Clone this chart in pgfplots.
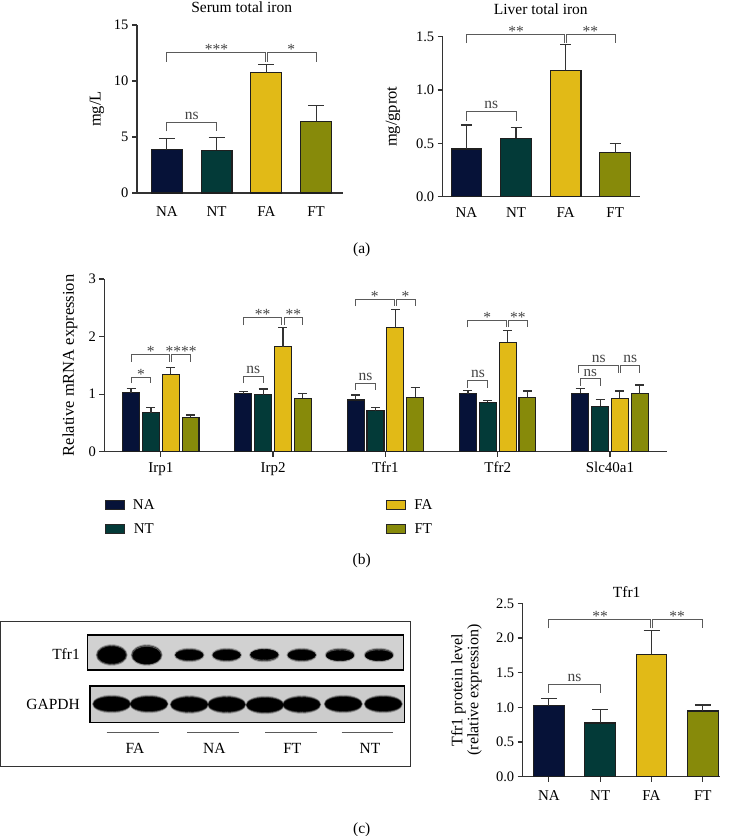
\documentclass[border=0pt]{standalone}
\usepackage{fontspec}
\setmainfont{Liberation Serif}
\usepackage{pgfplots}
\pgfplotsset{compat=1.18}
\definecolor{cNA}{HTML}{061238}
\definecolor{cNT}{HTML}{033A38}
\definecolor{cFA}{HTML}{E1BA17}
\definecolor{cFT}{HTML}{878A0A}
\definecolor{axg}{HTML}{333333}
\definecolor{brg}{HTML}{5A5A5A}
\definecolor{stg}{HTML}{444444}
\newcommand{\fs}[1]{\fontsize{#1}{#1}\selectfont}
\pgfplotsset{
  base/.style={
    scale only axis, anchor=south west, clip=false,
    axis x line*=bottom, axis y line*=left,
    axis line style={-, draw=axg, line width=1.2pt},
    tick style={draw=axg, line width=1.2pt},
    tick align=outside, major tick length=5pt,
    y tick label style={font=\fs{14.5}},
    x tick label style={font=\fs{15}, yshift=-5pt},
    /pgf/number format/assume math mode=true,
    ymin=0,
  },
  bar/.style n args={3}{ybar, bar shift=0pt, bar width=#3, draw=black!88, line width=1.1pt, fill=#1,
     error bars/y dir=plus, error bars/y explicit,
     error bars/error bar style={draw=axg, line width=1.2pt},
     error bars/error mark options={rotate=90, draw=axg, line width=1.2pt, mark size=#2}},
  brk/.style={draw=brg, line width=1pt, mark=none, sharp plot},
  leg/.style={hide axis, scale only axis, width=10pt, height=10pt, anchor=north west,
    xmin=0, xmax=1, ymin=0, ymax=1,
    legend image code/.code={\draw[##1, line width=0.9pt] (0pt,-4.5pt) rectangle (19pt,4.5pt); \path[draw=none, fill=none] (0pt,-1pt) rectangle (27pt,1pt);},
    legend style={at={(0,1)}, anchor=north west, draw=none, fill=none, inner sep=0pt, row sep=10pt,
      font=\fs{15}, nodes={inner sep=1pt, text height=10.5pt, text depth=1pt}}},
}
\tikzset{
  st/.style={font=\fs{15.5}, text=stg, anchor=base, yshift=-2pt, inner sep=0pt},
  nsl/.style={font=\fs{15.5}, text=stg, anchor=base, yshift=3pt, inner sep=0pt},
}
\begin{document}
\begin{tikzpicture}
\path[use as bounding box] (0,0) rectangle (730pt,-836pt);

% ---------- (a) left ----------
\begin{axis}[base, at={(137pt,-193pt)}, width=206pt, height=168pt,
  xmin=-0.6, xmax=3.54, ymax=15, ytick={0,5,10,15},
  xtick={0,1,2,3}, xticklabels={NA,NT,FA,FT}, xtick style={draw=none},
  ylabel={mg/L}, ylabel style={at={(axis description cs:-0.194,0.5)}, anchor=center, font=\fs{16.5}}]
\addplot[bar={cNA}{8pt}{0.62}] coordinates {(0,3.86) +- (0,0.98)};
\addplot[bar={cNT}{8pt}{0.62}] coordinates {(1,3.80) +- (0,1.16)};
\addplot[bar={cFA}{8pt}{0.62}] coordinates {(2,10.75) +- (0,0.74)};
\addplot[bar={cFT}{8pt}{0.62}] coordinates {(3,6.42) +- (0,1.42)};
\addplot[brk] coordinates {(0,11.7) (0,12.53) (1.98,12.53) (1.98,11.7)};
\addplot[brk] coordinates {(2.02,11.7) (2.02,12.53) (3,12.53) (3,11.7)};
\addplot[brk] coordinates {(0,5.5) (0,6.33) (1,6.33) (1,5.5)};
\node[st] at (axis cs:1,12.53) {***};
\node[st] at (axis cs:2.5,12.53) {*};
\node[nsl] at (axis cs:0.5,6.33) {ns};
\end{axis}

% ---------- (a) right ----------
\begin{axis}[base, at={(442.7pt,-196.7pt)}, width=197.3pt, height=160pt,
  xmin=-0.48, xmax=3.5, ymax=1.5, ytick={0,0.5,1,1.5},
  yticklabel style={/pgf/number format/.cd, fixed, fixed zerofill, precision=1},
  xtick={0,1,2,3}, xticklabels={NA,NT,FA,FT}, xtick style={draw=none},
  x tick label style={yshift=3pt},
  ylabel={mg/gprot}, ylabel style={at={(axis description cs:-0.252,0.5)}, anchor=center, font=\fs{16.5}}]
\addplot[bar={cNA}{5.5pt}{0.62}] coordinates {(0,0.447) +- (0,0.225)};
\addplot[bar={cNT}{5.5pt}{0.62}] coordinates {(1,0.547) +- (0,0.10)};
\addplot[bar={cFA}{5.5pt}{0.62}] coordinates {(2,1.184) +- (0,0.241)};
\addplot[bar={cFT}{5.5pt}{0.62}] coordinates {(3,0.4125) +- (0,0.085)};
\addplot[brk] coordinates {(0,1.44) (0,1.525) (1.98,1.525) (1.98,1.44)};
\addplot[brk] coordinates {(2.02,1.44) (2.02,1.525) (3,1.525) (3,1.44)};
\addplot[brk] coordinates {(0,0.7125) (0,0.803) (1,0.803) (1,0.7125)};
\node[st] at (axis cs:1,1.525) {**};
\node[st] at (axis cs:2.5,1.525) {**};
\node[nsl] at (axis cs:0.5,0.803) {ns};
\end{axis}

% ---------- (b) ----------
\begin{axis}[base, at={(104.3pt,-451.7pt)}, width=562.4pt, height=172.7pt,
  xmin=-0.503, xmax=4.505, ymax=3, ytick={0,1,2,3},
  xtick={0,1,2,3,4}, xticklabels={Irp1,Irp2,Tfr1,Tfr2,Slc40a1},
  x tick label style={yshift=3pt},
  ylabel={Relative mRNA expression}, ylabel style={at={(axis description cs:-0.061,0.5)}, anchor=center, font=\fs{16.5}}]
\addplot[bar={cNA}{4.5pt}{0.151}] coordinates {(-0.265,1.025) +- (0,0.075) (0.735,1.008) +- (0,0.034) (1.735,0.898) +- (0,0.087) (2.735,1.008) +- (0,0.052) (3.735,1.013) +- (0,0.087)};
\addplot[bar={cNT}{4.5pt}{0.151}] coordinates {(-0.088,0.678) +- (0,0.086) (0.912,0.99) +- (0,0.099) (1.912,0.712) +- (0,0.052) (2.912,0.857) +- (0,0.035) (3.912,0.788) +- (0,0.115)};
\addplot[bar={cFA}{4.5pt}{0.151}] coordinates {(0.088,1.344) +- (0,0.115) (1.088,1.824) +- (0,0.33) (2.088,2.154) +- (0,0.319) (3.088,1.90) +- (0,0.202) (4.088,0.927) +- (0,0.127)};
\addplot[bar={cFT}{4.5pt}{0.151}] coordinates {(0.265,0.597) +- (0,0.04) (1.265,0.927) +- (0,0.081) (2.265,0.944) +- (0,0.168) (3.265,0.944) +- (0,0.11) (4.265,1.008) +- (0,0.15)};
% Irp1
\addplot[brk] coordinates {(-0.265,1.19) (-0.265,1.29) (-0.088,1.29) (-0.088,1.19)};
\addplot[brk] coordinates {(-0.265,1.56) (-0.265,1.68) (0.078,1.68) (0.078,1.56)};
\addplot[brk] coordinates {(0.098,1.56) (0.098,1.68) (0.265,1.68) (0.265,1.56)};
\node[st] at (axis cs:-0.176,1.29) {*};
\node[st] at (axis cs:-0.09,1.68) {*};
\node[st] at (axis cs:0.18,1.68) {****};
% Irp2
\addplot[brk] coordinates {(0.735,1.19) (0.735,1.30) (0.912,1.30) (0.912,1.19)};
\addplot[brk] coordinates {(0.735,2.2) (0.735,2.33) (1.078,2.33) (1.078,2.2)};
\addplot[brk] coordinates {(1.098,2.2) (1.098,2.33) (1.265,2.33) (1.265,2.2)};
\node[nsl] at (axis cs:0.824,1.30) {ns};
\node[st] at (axis cs:0.906,2.33) {**};
\node[st] at (axis cs:1.18,2.33) {**};
% Tfr1
\addplot[brk] coordinates {(1.735,1.07) (1.735,1.19) (1.912,1.19) (1.912,1.07)};
\addplot[brk] coordinates {(1.735,2.53) (1.735,2.65) (2.078,2.65) (2.078,2.53)};
\addplot[brk] coordinates {(2.098,2.53) (2.098,2.65) (2.265,2.65) (2.265,2.53)};
\node[nsl] at (axis cs:1.824,1.19) {ns};
\node[st] at (axis cs:1.906,2.65) {*};
\node[st] at (axis cs:2.18,2.65) {*};
% Tfr2
\addplot[brk] coordinates {(2.735,1.11) (2.735,1.245) (2.912,1.245) (2.912,1.11)};
\addplot[brk] coordinates {(2.735,2.16) (2.735,2.28) (3.078,2.28) (3.078,2.16)};
\addplot[brk] coordinates {(3.098,2.16) (3.098,2.28) (3.265,2.28) (3.265,2.16)};
\node[nsl] at (axis cs:2.824,1.245) {ns};
\node[st] at (axis cs:2.906,2.28) {*};
\node[st] at (axis cs:3.18,2.28) {**};
% Slc40a1
\addplot[brk] coordinates {(3.735,1.15) (3.735,1.27) (3.912,1.27) (3.912,1.15)};
\addplot[brk] coordinates {(3.717,1.37) (3.717,1.49) (4.078,1.49) (4.078,1.37)};
\addplot[brk] coordinates {(4.098,1.37) (4.098,1.49) (4.265,1.49) (4.265,1.37)};
\node[nsl, font=\fs{15}, yshift=-1pt] at (axis cs:3.824,1.27) {ns};
\node[nsl] at (axis cs:3.9,1.49) {ns};
\node[nsl] at (axis cs:4.18,1.49) {ns};
\end{axis}

% ---------- legend (b) ----------
\begin{axis}[leg, at={(104.3pt,-498pt)}]
\addlegendimage{fill=cNA, draw=black!85}\addlegendentry{NA}
\addlegendimage{fill=cNT, draw=black!85}\addlegendentry{NT}
\end{axis}
\begin{axis}[leg, at={(385.7pt,-498pt)}]
\addlegendimage{fill=cFA, draw=black!85}\addlegendentry{FA}
\addlegendimage{fill=cFT, draw=black!85}\addlegendentry{FT}
\end{axis}

% ---------- (c) bar chart ----------
\begin{axis}[base, at={(522.7pt,-776.7pt)}, width=197.3pt, height=173.4pt,
  xmin=-0.51, xmax=3.335, ymax=2.5, ytick={0,0.5,1,1.5,2,2.5},
  yticklabel style={/pgf/number format/.cd, fixed, fixed zerofill, precision=1},
  xtick={0,1,2,3}, xticklabels={NA,NT,FA,FT},
  ylabel={Tfr1 protein level\\(relative expression)},
  ylabel style={at={(axis description cs:-0.285,0.5)}, anchor=center, align=center, font=\fs{16}}]
\addplot[bar={cNA}{8pt}{0.6}] coordinates {(0,1.024) +- (0,0.106)};
\addplot[bar={cNT}{8pt}{0.6}] coordinates {(1,0.774) +- (0,0.192)};
\addplot[bar={cFA}{8pt}{0.6}] coordinates {(2,1.764) +- (0,0.342)};
\addplot[bar={cFT}{8pt}{0.6}] coordinates {(3,0.947) +- (0,0.087)};
\addplot[brk] coordinates {(0,2.139) (0,2.269) (1.98,2.269) (1.98,2.139)};
\addplot[brk] coordinates {(2.02,2.139) (2.02,2.269) (3,2.269) (3,2.139)};
\addplot[brk] coordinates {(0,1.21) (0,1.332) (1,1.332) (1,1.21)};
\node[st] at (axis cs:1,2.269) {**};
\node[st] at (axis cs:2.5,2.269) {**};
\node[nsl] at (axis cs:0.5,1.332) {ns};
\end{axis}

% ---------- western blot ----------
\begin{axis}[hide axis, scale only axis, width=730pt, height=836pt, at={(0pt,-836pt)}, anchor=south west,
  xmin=0, xmax=730, ymin=-836, ymax=0, clip=false]
\draw[draw=axg, line width=1pt, fill=white] (axis cs:0.6,-621.7) rectangle (axis cs:410.7,-766);
\fill[gray!36] (axis cs:87.3,-635) rectangle (axis cs:403.3,-670);
\fill[gray!40] (axis cs:90,-685.7) rectangle (axis cs:404.3,-722.3);
% Tfr1 bands
\addplot[only marks, mark=*, mark size=10.5pt, mark options={xscale=1.5, fill=black, draw=none, opacity=0.18}] coordinates {(111.7,-655) (146.7,-655)};
\addplot[only marks, mark=*, mark size=9.5pt, mark options={xscale=1.58, fill=black, draw=none, opacity=0.5}] coordinates {(111.7,-655) (146.7,-655)};
\addplot[only marks, mark=*, mark size=8.5pt, mark options={xscale=1.65, fill=black, draw=none}] coordinates {(111.7,-655) (146.7,-655.5)};
\addplot[only marks, mark=*, mark size=7pt, mark options={xscale=2.15, fill=black, draw=none, opacity=0.18}] coordinates {(189.3,-655) (226.7,-655) (264.3,-655) (301.7,-655) (340,-655) (379,-655)};
\addplot[only marks, mark=*, mark size=6pt, mark options={xscale=2.35, fill=black, draw=none, opacity=0.5}] coordinates {(189.3,-655) (226.7,-655) (264.3,-655) (301.7,-655) (340,-655) (379,-655)};
\addplot[only marks, mark=*, mark size=5pt, mark options={xscale=2.75, fill=black, draw=none}] coordinates {(189.3,-655) (226.7,-655) (264.3,-654.5) (301.7,-655) (340,-655.5) (379,-655.5)};
% GAPDH bands
\addplot[only marks, mark=*, mark size=9pt, mark options={xscale=2.15, fill=black, draw=none, opacity=0.18}] coordinates {(111.7,-704) (149,-704) (189.3,-704.5) (226.7,-704.5) (265,-705) (301.7,-704.5) (343.3,-704) (383.3,-704)};
\addplot[only marks, mark=*, mark size=8pt, mark options={xscale=2.35, fill=black, draw=none, opacity=0.5}] coordinates {(111.7,-704) (149,-704) (189.3,-704.5) (226.7,-704.5) (265,-705) (301.7,-704.5) (343.3,-704) (383.3,-704)};
\addplot[only marks, mark=*, mark size=7pt, mark options={xscale=2.6, fill=black, draw=none}] coordinates {(111.7,-704) (149,-704) (189.3,-704.5) (226.7,-704.5) (265,-705) (301.7,-704.5) (343.3,-704) (383.3,-704)};
\draw[black, line width=1.6pt] (axis cs:87.3,-635) rectangle (axis cs:403.3,-670);
\draw[black, line width=1.6pt] (axis cs:90,-685.7) rectangle (axis cs:404.3,-722.3);
\draw[draw=brg, line width=1.4pt] (axis cs:106.7,-732.7) -- (axis cs:159,-732.7);
\draw[draw=brg, line width=1.4pt] (axis cs:187.3,-732.7) -- (axis cs:239.3,-732.7);
\draw[draw=brg, line width=1.4pt] (axis cs:265,-732.2) -- (axis cs:316.7,-732.2);
\draw[draw=brg, line width=1.4pt] (axis cs:341.7,-732.2) -- (axis cs:393.3,-732.2);
\node[font=\fs{15.5}] at (axis cs:135,-748.3) {FA};
\node[font=\fs{15.5}] at (axis cs:214.3,-748.3) {NA};
\node[font=\fs{15.5}] at (axis cs:292.3,-748.3) {FT};
\node[font=\fs{15.5}] at (axis cs:370,-748.3) {NT};
\node[font=\fs{15.5}, anchor=east, inner sep=0pt] at (axis cs:80,-654) {Tfr1};
\node[font=\fs{15.5}, anchor=east, inner sep=0pt] at (axis cs:80,-704.3) {GAPDH};
\end{axis}

% ---------- titles and panel labels ----------
\node[font=\fs{15.5}] at (241.7pt,-7.5pt) {Serum total iron};
\node[font=\fs{15.5}] at (540.8pt,-9.5pt) {Liver total iron};
\node[font=\fs{15.5}] at (626.7pt,-591.7pt) {Tfr1};
\node[font=\fs{15.5}] at (361.7pt,-249.3pt) {(a)};
\node[font=\fs{15.5}] at (361.7pt,-560.7pt) {(b)};
\node[font=\fs{15.5}] at (361.7pt,-829.3pt) {(c)};
\end{tikzpicture}
\end{document}
